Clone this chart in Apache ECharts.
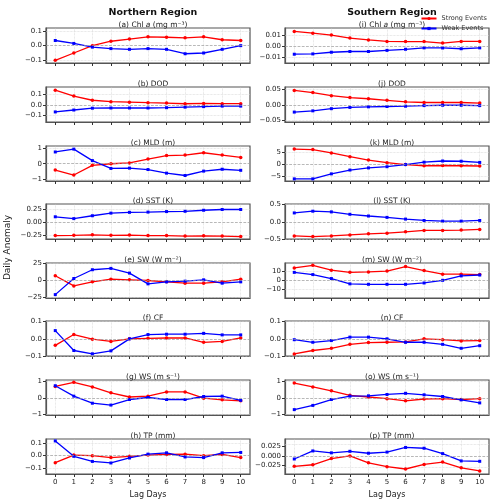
<!DOCTYPE html>
<html>
<head>
<meta charset="utf-8">
<script src="https://cdn.jsdelivr.net/npm/echarts@6/dist/echarts.min.js"></script>
<style>html,body{margin:0;padding:0;background:#fff}#chart{width:500px;height:500px}</style>
</head>
<body>
<div id="chart"></div>
<script>
const lagDays = [0, 1, 2, 3, 4, 5, 6, 7, 8, 9, 10];

// Northern Region
const chlStrongN = [-0.10, -0.05, 0.00, 0.03, 0.045, 0.06, 0.057, 0.053, 0.06, 0.04, 0.035];
const chlWeakN = [0.035, 0.015, -0.01, -0.02, -0.025, -0.02, -0.025, -0.055, -0.05, -0.025, 0.0];
const dodStrongN = [0.14, 0.085, 0.045, 0.032, 0.027, 0.022, 0.018, 0.012, 0.015, 0.013, 0.013];
const dodWeakN = [-0.065, -0.047, -0.03, -0.028, -0.028, -0.028, -0.025, -0.02, -0.015, -0.01, -0.01];
const mldStrongN = [-0.4, -0.72, -0.1, 0, 0.05, 0.3, 0.52, 0.55, 0.7, 0.55, 0.4];
const mldWeakN = [0.75, 0.93, 0.2, -0.3, -0.28, -0.37, -0.6, -0.75, -0.47, -0.35, -0.42];
const sstStrongN = [-0.26, -0.255, -0.245, -0.255, -0.25, -0.26, -0.26, -0.27, -0.265, -0.27, -0.28];
const sstWeakN = [0.1, 0.065, 0.12, 0.17, 0.185, 0.19, 0.2, 0.205, 0.225, 0.24, 0.24];
const swStrongN = [7, -8, -2, 2, 1, 0, -2, -4, -4, -2, 2];
const swWeakN = [-21, 3, 16, 18, 11, -5, -2, -1, 1, -4, -2];
const cfStrongN = [-0.038, 0.025, -0.002, -0.015, 0.0, 0.003, 0.005, 0.005, -0.02, -0.015, 0.005];
const cfWeakN = [0.048, -0.068, -0.087, -0.07, 0, 0.025, 0.027, 0.027, 0.032, 0.023, 0.023];
const wsStrongN = [0.68, 0.92, 0.65, 0.3, 0.05, 0.1, 0.35, 0.35, -0.02, -0.12, -0.18];
const wsWeakN = [0.72, 0.1, -0.32, -0.43, -0.1, 0.02, -0.1, -0.1, 0.08, 0.1, -0.15];
const tpStrongN = [-0.055, 0.005, 0.0, -0.015, -0.005, 0.005, 0.01, 0.012, 0.0, 0.01, -0.015];
const tpWeakN = [0.115, -0.005, -0.045, -0.057, -0.018, 0.012, 0.022, -0.01, -0.015, 0.022, 0.025];

// Southern Region
const chlStrongS = [0.0133, 0.0117, 0.01, 0.0072, 0.0055, 0.0042, 0.004, 0.004, 0.0027, 0.0042, 0.0042];
const chlWeakS = [-0.0075, -0.0072, -0.0057, -0.005, -0.005, -0.004, -0.003, -0.0017, -0.0018, -0.0025, -0.0017];
const dodStrongS = [0.047, 0.04, 0.03, 0.024, 0.02, 0.015, 0.01, 0.008, 0.008, 0.008, 0.006];
const dodWeakS = [-0.023, -0.019, -0.012, -0.008, -0.006, -0.005, -0.004, -0.002, -0.001, -0.001, -0.002];
const mldStrongS = [6.2, 6, 4.6, 3, 1.6, 0.5, -0.3, -0.8, -0.7, -0.8, -0.9];
const mldWeakS = [-6.3, -6.3, -4.2, -2.6, -1.7, -1.2, -0.3, 0.7, 1.2, 1.1, 0.6];
const sstStrongS = [-0.41, -0.43, -0.41, -0.38, -0.35, -0.33, -0.29, -0.25, -0.25, -0.24, -0.22];
const sstWeakS = [0.26, 0.31, 0.29, 0.22, 0.17, 0.13, 0.08, 0.04, 0.02, 0.02, 0.04];
const swStrongS = [14, 17, 11.5, 9, 9.5, 10.5, 15.5, 11, 7, 7, 6.5];
const swWeakS = [9, 6.5, 2, -4, -4.5, -4.5, -4.5, -3, 0, 5, 6];
const cfStrongS = [-0.088, -0.068, -0.055, -0.032, -0.022, -0.02, -0.018, 0, -0.005, -0.012, -0.01];
const cfWeakS = [-0.005, -0.02, -0.01, 0.01, 0.01, 0, -0.02, -0.02, -0.032, -0.055, -0.04];
const wsStrongS = [0.88, 0.65, 0.42, 0.15, 0.05, -0.05, -0.18, -0.07, -0.05, -0.1, -0.05];
const wsWeakS = [-0.7, -0.45, -0.1, 0.1, 0.12, 0.2, 0.27, 0.18, 0.08, -0.12, -0.3];
const tpStrongS = [-0.027, -0.023, -0.007, 0, -0.018, -0.028, -0.034, -0.022, -0.016, -0.031, -0.039];
const tpWeakS = [-0.008, 0.013, 0.008, 0.012, 0.007, 0.01, 0.022, 0.02, 0.006, -0.013, -0.014];

const panels = [
  { t: ["(a) Chl ", "a", " (mg m⁻³)"], s: chlStrongN, w: chlWeakN, min: -0.118, max: 0.12, ticks: [-0.1, 0, 0.1], d: 1 },
  { t: ["(b) DOD"], s: dodStrongN, w: dodWeakN, min: -0.16, max: 0.17, ticks: [-0.1, 0, 0.1], d: 1 },
  { t: ["(c) MLD (m)"], s: mldStrongN, w: mldWeakN, min: -1.1, max: 1.13, ticks: [-1, 0, 1], d: 0 },
  { t: ["(d) SST (K)"], s: sstStrongN, w: sstWeakN, min: -0.326, max: 0.345, ticks: [-0.25, 0, 0.25], d: 2 },
  { t: ["(e) SW (W m⁻²)"], s: swStrongN, w: swWeakN, min: -26, max: 26, ticks: [-25, 0, 25], d: 0 },
  { t: ["(f) CF"], s: cfStrongN, w: cfWeakN, min: -0.1, max: 0.104, ticks: [-0.1, 0, 0.1], d: 1 },
  { t: ["(g) WS (m s⁻¹)"], s: wsStrongN, w: wsWeakN, min: -1.02, max: 1.06, ticks: [-1, 0, 1], d: 0 },
  { t: ["(h) TP (mm)"], s: tpStrongN, w: tpWeakN, min: -0.143, max: 0.13, ticks: [-0.1, 0, 0.1], d: 1 },
  { t: ["(i) Chl ", "a", " (mg m⁻³)"], s: chlStrongS, w: chlWeakS, min: -0.0155, max: 0.0164, ticks: [-0.01, 0, 0.01], d: 2 },
  { t: ["(j) DOD"], s: dodStrongS, w: dodWeakS, min: -0.055, max: 0.058, ticks: [-0.05, 0, 0.05], d: 2 },
  { t: ["(k) MLD (m)"], s: mldStrongS, w: mldWeakS, min: -7.2, max: 7.5, ticks: [-5, 0, 5], d: 0 },
  { t: ["(l) SST (K)"], s: sstStrongS, w: sstWeakS, min: -0.5, max: 0.52, ticks: [-0.5, 0, 0.5], d: 1 },
  { t: ["(m) SW (W m⁻²)"], s: swStrongS, w: swWeakS, min: -20, max: 19.6, ticks: [-10, 0, 10], d: 0 },
  { t: ["(n) CF"], s: cfStrongS, w: cfWeakS, min: -0.1, max: 0.104, ticks: [-0.1, 0, 0.1], d: 1 },
  { t: ["(o) WS (m s⁻¹)"], s: wsStrongS, w: wsWeakS, min: -1.02, max: 1.06, ticks: [-1, 0, 1], d: 0 },
  { t: ["(p) TP (mm)"], s: tpStrongS, w: tpWeakS, min: -0.047, max: 0.044, ticks: [-0.025, 0, 0.025], d: 3 }
];

const font = "DejaVu Sans";
const tops = [28, 87, 146, 204, 263, 321, 380, 439];
const lefts = [46, 285];
const pw = 204, ph = 35;
const frame = "#555";

const grids = [], xAxes = [], yAxes = [], series = [], titles = [];

panels.forEach((p, i) => {
  const col = i < 8 ? 0 : 1, row = i % 8;
  const bottom = row === 7;
  grids.push({ left: lefts[col], top: tops[row], width: pw, height: ph, show: true, borderColor: frame, borderWidth: 1.2 });
  xAxes.push({
    type: "value", gridIndex: i, min: -0.5, max: 10.5,
    axisLine: { show: true, onZero: false, lineStyle: { color: frame, width: 1.2 } },
    axisTick: { show: true, length: 3, lineStyle: { color: "#333" }, customValues: lagDays },
    axisLabel: { show: bottom, fontSize: 7, color: "#222", fontFamily: font, margin: 5, customValues: lagDays },
    splitLine: { show: false },
    name: bottom ? "Lag Days" : "", nameLocation: "middle", nameGap: 17,
    nameTextStyle: { fontSize: 8, color: "#222", fontFamily: font }
  });
  yAxes.push({
    type: "value", gridIndex: i, min: p.min, max: p.max,
    axisLine: { show: true, onZero: false, lineStyle: { color: frame, width: 1.2 } },
    axisTick: { show: true, length: 3, lineStyle: { color: "#333" }, customValues: p.ticks },
    axisLabel: {
      fontSize: 7, color: "#222", fontFamily: font, margin: 4, customValues: p.ticks,
      formatter: v => (Math.abs(v) < 1e-12 ? (0).toFixed(p.d) : v.toFixed(p.d)).replace("-", "−")
    },
    splitLine: { show: false }
  });
  const toPairs = arr => arr.map((v, k) => [lagDays[k], v]);
  const gridLines = lagDays.map(d => ({ xAxis: d })).concat(p.ticks.filter(v => v !== 0).map(v => ({ yAxis: v })));
  series.push({
    name: "Strong Events", type: "line", xAxisIndex: i, yAxisIndex: i, data: toPairs(p.s),
    color: "#ff0000", symbol: "circle", symbolSize: 3.5, lineStyle: { width: 1.3 }, z: 3,
    markLine: { silent: true, symbol: "none", label: { show: false }, lineStyle: { color: "#999", type: "dashed", width: 0.7 }, data: [{ yAxis: 0 }] }
  });
  series.push({
    name: "Weak Events", type: "line", xAxisIndex: i, yAxisIndex: i, data: toPairs(p.w),
    color: "#0000ff", symbol: "rect", symbolSize: 3, lineStyle: { width: 1.3 }, z: 4,
    markLine: { silent: true, symbol: "none", label: { show: false }, lineStyle: { color: "#d4d4d4", type: "dotted", width: 0.7 }, data: gridLines, z: 1 }
  });
  const txt = p.t.length === 3 ? p.t[0] + "{i|" + p.t[1] + "}" + p.t[2] : p.t[0];
  titles.push({
    text: txt, left: lefts[col] + pw / 2, top: tops[row] - 12, textAlign: "center",
    textStyle: { fontSize: 7.5, fontWeight: "normal", color: "#222", fontFamily: font,
      rich: { i: { fontSize: 7.5, fontStyle: "italic", color: "#222", fontFamily: font } } }
  });
});

titles.push({ text: "Northern Region", left: 148, top: 3, textAlign: "center", textStyle: { fontSize: 9.5, fontWeight: "bold", color: "#111", fontFamily: font } });
titles.push({ text: "Southern Region", left: 387, top: 3, textAlign: "center", textStyle: { fontSize: 9.5, fontWeight: "bold", color: "#111", fontFamily: font } });

const chart = echarts.init(document.getElementById("chart"), null, { renderer: "canvas" });
chart.setOption({
  animation: false,
  backgroundColor: "#fff",
  title: titles,
  legend: {
    data: ["Strong Events", "Weak Events"], orient: "vertical", right: 8, top: 10,
    itemWidth: 15, itemHeight: 4, itemGap: 3,
    textStyle: { fontSize: 6.5, color: "#333", fontFamily: font }
  },
  graphic: [{
    type: "text", left: 3, top: 215, rotation: Math.PI / 2,
    style: { text: "Daily Anomaly", fontSize: 9, fill: "#222", fontFamily: font }
  }],
  grid: grids, xAxis: xAxes, yAxis: yAxes, series: series
});
</script>
</body>
</html>
